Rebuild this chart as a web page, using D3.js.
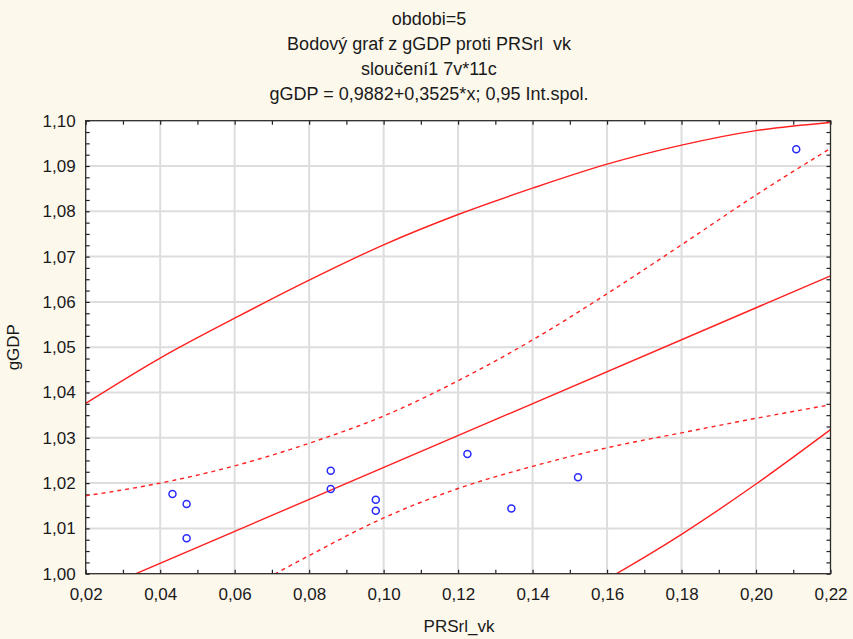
<!DOCTYPE html>
<html>
<head>
<meta charset="utf-8">
<script src="https://cdn.jsdelivr.net/npm/d3@7"></script>
<style>
  body { margin: 0; background: #fdf8ec; }
  text { font-family: "Liberation Sans", Arial, sans-serif; fill: #1a1a1a; white-space: pre; }
</style>
</head>
<body>
<svg id="chart" width="853" height="639"></svg>
<script>
// title
const titleLines = [
  "obdobi=5",
  "Bodový graf z gGDP proti PRSrl  vk",
  "sloučení1 7v*11c",
  "gGDP = 0,9882+0,3525*x; 0,95 Int.spol."
];

// scatter points (PRSrl_vk, gGDP)
const prsValues = [0.0433, 0.0471, 0.0471, 0.0858, 0.0858, 0.0979, 0.0979, 0.1225, 0.1343, 0.1522, 0.2108];
const gdpValues = [1.0176, 1.0154, 1.0078, 1.0227, 1.0187, 1.0163, 1.0139, 1.0264, 1.0144, 1.0213, 1.0937];

// fitted line from the title
const intercept = 0.9882, slope = 0.3525;

// bands
const bandX = [0.02, 0.04, 0.06, 0.08, 0.10, 0.12, 0.14, 0.16, 0.18, 0.20, 0.22];
const predUpper = [1.0376, 1.0476, 1.0564, 1.0648, 1.0726, 1.0793, 1.0851, 1.0904, 1.0946, 1.0978, 1.0996];
const confUpper = [1.0172, 1.0200, 1.0238, 1.0288, 1.0348, 1.0426, 1.0516, 1.0618, 1.0726, 1.0836, 1.0939];
const confLower = [0.9733, 0.9846, 0.9949, 1.0040, 1.0123, 1.0188, 1.0237, 1.0278, 1.0311, 1.0343, 1.0373];
const predLower = [0.9529, 0.9570, 0.9620, 0.9672, 0.9743, 0.9817, 0.9897, 0.9988, 1.0087, 1.0198, 1.0318];

// ticks
const xTicks = [0.02, 0.04, 0.06, 0.08, 0.10, 0.12, 0.14, 0.16, 0.18, 0.20, 0.22];
const yTicks = [1.00, 1.01, 1.02, 1.03, 1.04, 1.05, 1.06, 1.07, 1.08, 1.09, 1.10];

const svg = d3.select("#chart");
const pLeft = 85.7, pRight = 830.5, pTop = 120.7, pBottom = 573.7;

const x = d3.scaleLinear().domain([0.02, 0.22]).range([pLeft, pRight]);
const y = d3.scaleLinear().domain([1.00, 1.10]).range([pBottom, pTop]);
const comma = d => d3.format(".2f")(d).replace(".", ",");

// plot background
svg.append("rect")
  .attr("x", pLeft).attr("y", pTop)
  .attr("width", pRight - pLeft).attr("height", pBottom - pTop)
  .attr("fill", "#ffffff");

// grid
svg.append("g").selectAll("line").data(xTicks.slice(1, -1)).enter().append("line")
  .attr("x1", d => x(d)).attr("x2", d => x(d))
  .attr("y1", pTop).attr("y2", pBottom)
  .attr("stroke", "#dddddd").attr("stroke-width", 2);
svg.append("g").selectAll("line").data(yTicks.slice(1, -1)).enter().append("line")
  .attr("y1", d => y(d)).attr("y2", d => y(d))
  .attr("x1", pLeft).attr("x2", pRight)
  .attr("stroke", "#dddddd").attr("stroke-width", 2);

// minor ticks (inward)
const xMinor = d3.range(0.02, 0.2201, 0.01);
const yMinor = d3.range(1.00, 1.1001, 0.0025);
function minorAxis(axis, ticks, tr) {
  const g = svg.append("g").attr("transform", tr)
    .call(axis.tickValues(ticks).tickSize(-4).tickFormat(""));
  g.select(".domain").remove();
  g.selectAll(".tick line").attr("stroke", "#222").attr("stroke-width", 1.2);
}
minorAxis(d3.axisBottom(x), xMinor, `translate(0,${pBottom})`);
minorAxis(d3.axisTop(x), xMinor, `translate(0,${pTop})`);
minorAxis(d3.axisLeft(y), yMinor, `translate(${pLeft},0)`);
minorAxis(d3.axisRight(y), yMinor, `translate(${pRight},0)`);

// labeled axes
const xAxis = svg.append("g").attr("transform", `translate(0,${pBottom})`)
  .call(d3.axisBottom(x).tickValues(xTicks).tickSize(0).tickPadding(14).tickFormat(comma));
xAxis.select(".domain").remove();
xAxis.selectAll("text").attr("font-size", 17).attr("font-family", null);

const yAxis = svg.append("g").attr("transform", `translate(${pLeft},0)`)
  .call(d3.axisLeft(y).tickValues(yTicks).tickSize(0).tickPadding(10).tickFormat(comma));
yAxis.select(".domain").remove();
yAxis.selectAll("text").attr("font-size", 17).attr("font-family", null);

// clip for curves
svg.append("clipPath").attr("id", "plotClip").append("rect")
  .attr("x", pLeft).attr("y", pTop).attr("width", pRight - pLeft).attr("height", pBottom - pTop);
const plot = svg.append("g").attr("clip-path", "url(#plotClip)");

const curve = d3.line()
  .x((d, i) => x(bandX[i]))
  .y(d => y(d))
  .curve(d3.curveMonotoneX);

[predUpper, predLower].forEach(s => {
  plot.append("path").attr("d", curve(s))
    .attr("fill", "none").attr("stroke", "#ff2020").attr("stroke-width", 1.4);
});
[confUpper, confLower].forEach(s => {
  plot.append("path").attr("d", curve(s))
    .attr("fill", "none").attr("stroke", "#ff2020").attr("stroke-width", 1.4)
    .attr("stroke-dasharray", "4,4");
});

// regression line
const fit = d3.line().x(d => x(d)).y(d => y(intercept + slope * d));
plot.append("path").attr("d", fit([0.02, 0.22]))
  .attr("fill", "none").attr("stroke", "#ff2020").attr("stroke-width", 1.4);

// points
plot.selectAll("circle").data(prsValues).enter().append("circle")
  .attr("cx", d => x(d))
  .attr("cy", (d, i) => y(gdpValues[i]))
  .attr("r", 3.5)
  .attr("fill", "none")
  .attr("stroke", "#2a2aff")
  .attr("stroke-width", 1.5);

// frame
svg.append("rect")
  .attr("x", pLeft).attr("y", pTop)
  .attr("width", pRight - pLeft).attr("height", pBottom - pTop)
  .attr("fill", "none").attr("stroke", "#2b2b2b").attr("stroke-width", 1.3);

// titles
svg.append("g").selectAll("text").data(titleLines).enter().append("text")
  .attr("x", 429)
  .attr("y", (d, i) => 25 + i * 25)
  .attr("text-anchor", "middle")
  .attr("font-size", 18)
  .attr("xml:space", "preserve")
  .text(d => d);

svg.append("text")
  .attr("x", 459).attr("y", 632)
  .attr("text-anchor", "middle")
  .attr("font-size", 17)
  .text("PRSrl_vk");

svg.append("text")
  .attr("transform", `translate(19,${(pTop + pBottom) / 2}) rotate(-90)`)
  .attr("text-anchor", "middle")
  .attr("font-size", 17)
  .text("gGDP");
</script>
</body>
</html>
